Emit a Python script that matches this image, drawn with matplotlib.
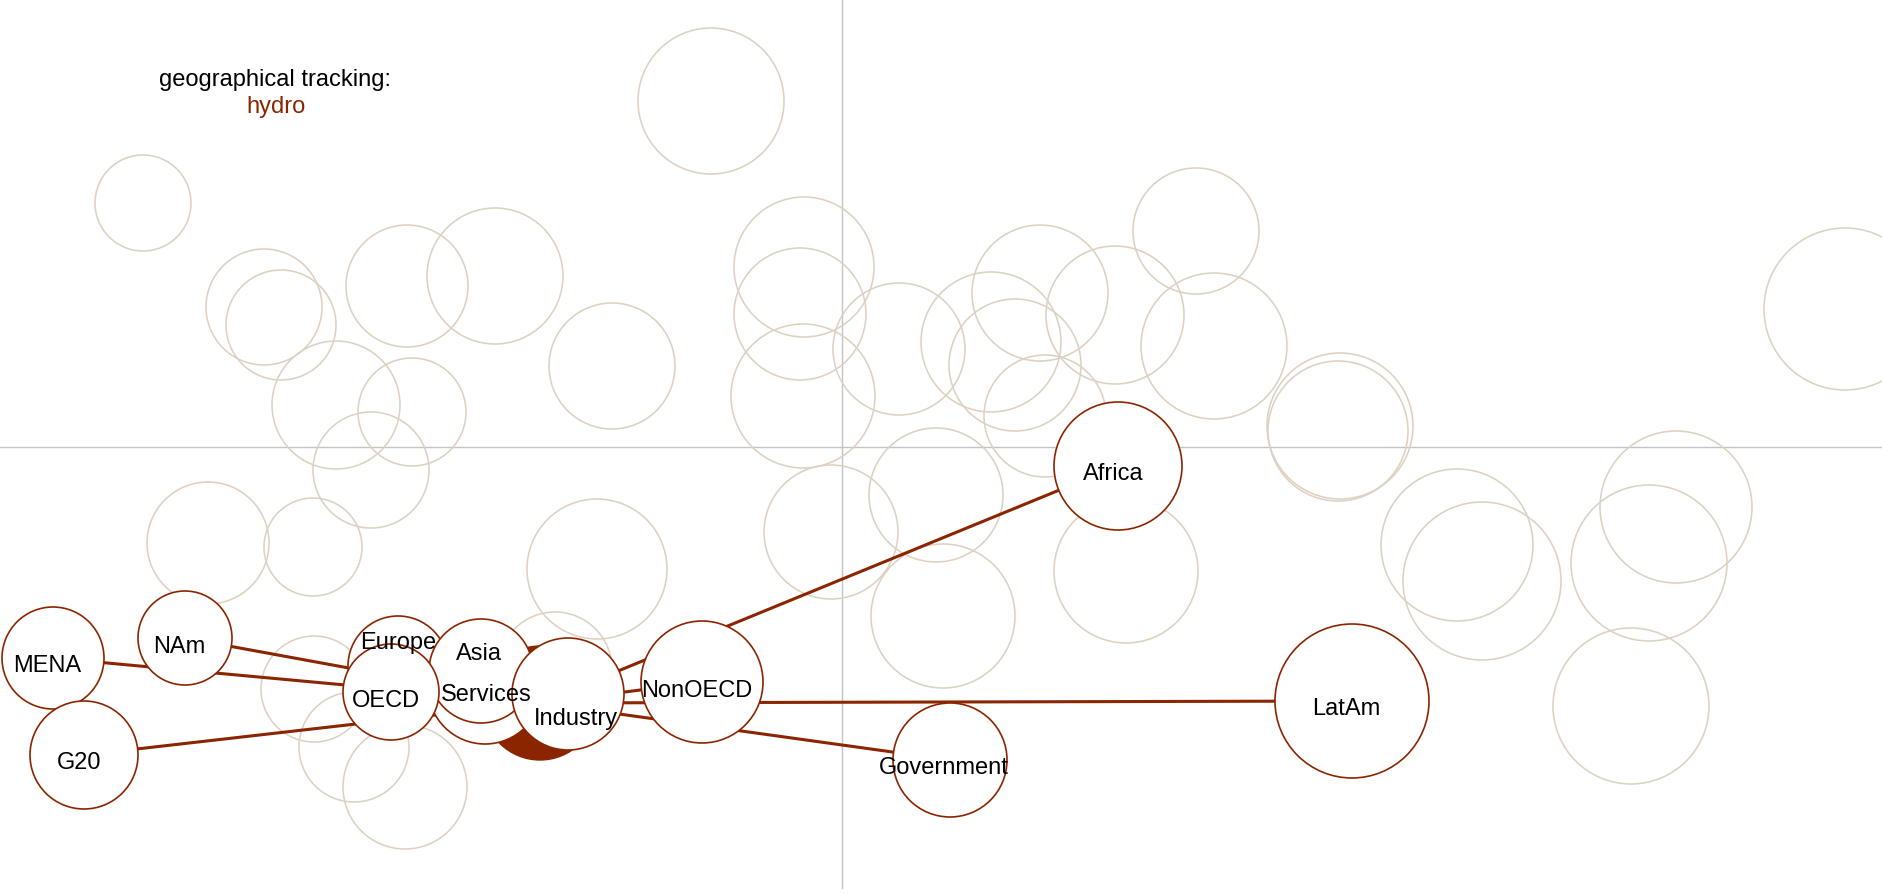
import matplotlib
matplotlib.use('Agg')
import matplotlib.pyplot as plt
from matplotlib.patches import Circle

W, H = 1883, 895
DARK = '#8b2500'
BEIGE = '#ddd1c3'
AXIS = '#c4c4c4'
FONT = ['Liberation Sans', 'DejaVu Sans']

# untracked nodes (layout units, y grows downwards)
bg_x = [711, 143, 264, 281, 407, 495, 336, 412, 371, 612, 804, 800, 803, 899,
        1040, 991, 1015, 1045, 1115, 1196, 1214, 1340, 1338, 1845, 208, 313,
        597, 831, 936, 943, 1126, 1457, 1482, 1676, 1649, 1631, 314, 354, 405, 555]
bg_y = [102, 204, 308, 326, 287, 277, 406, 413, 471, 367, 268, 315, 397, 350,
        294, 343, 366, 417, 316, 232, 347, 427, 432, 310, 544, 548,
        570, 533, 496, 617, 572, 546, 582, 508, 564, 707, 690, 748, 788, 670]
bg_r = [73, 48, 58, 55, 61, 68, 64, 54, 58, 63, 70, 66, 72, 66,
        68, 70, 66, 61, 69, 63, 73, 73, 70, 81, 61, 49,
        70, 67, 67, 72, 72, 76, 79, 76, 78, 78, 53, 55, 62, 57]

# tracked node and the nodes linked to it
hub_name = 'hydro'
hub_x, hub_y, hub_r = 540, 704, 57

names = ['MENA', 'G20', 'NAm', 'Services', 'Europe', 'Asia', 'OECD', 'Industry',
         'NonOECD', 'Government', 'LatAm', 'Africa']
node_x = [53, 84, 185, 485, 398, 481, 391, 568, 702, 950, 1352, 1118]
node_y = [659, 756, 639, 688, 667, 672, 693, 695, 683, 761, 702, 467]
node_r = [51, 54, 47, 57, 50, 52, 48, 56, 61, 57, 77, 64]
label_x = [47, 79, 179, 486, 398, 479, 386, 576, 697, 944, 1346, 1113]
label_y = [664, 761, 645, 693, 641, 652, 699, 717, 689, 766, 707, 472]

origin_x, origin_y = 842, 448

fig = plt.figure(figsize=(W / 100, H / 100), dpi=100)
ax = fig.add_axes([0, 0, 1, 1])
ax.set_xlim(0, W)
ax.set_ylim(H, 0)
ax.axis('off')

ax.plot([origin_x, origin_x], [0, 889], color=AXIS, lw=1.0, zorder=1)
ax.plot([0, W], [origin_y, origin_y], color=AXIS, lw=1.0, zorder=1)

for x, y, r in zip(bg_x, bg_y, bg_r):
    ax.add_patch(Circle((x, y), r, fill=False, ec=BEIGE, lw=1.15, zorder=2))

for x, y in zip(node_x, node_y):
    ax.plot([hub_x, x], [hub_y, y], color=DARK, lw=2.2, zorder=3,
            solid_capstyle='butt')

ax.add_patch(Circle((hub_x, hub_y), hub_r, fc=DARK, ec=DARK, lw=1.0, zorder=4))

for i, (x, y, r) in enumerate(zip(node_x, node_y, node_r)):
    ax.add_patch(Circle((x, y), r, fc='white', ec=DARK, lw=1.2, zorder=5 + i * 0.01))

for name, x, y in zip(names, label_x, label_y):
    ax.text(x, y + 8, name, ha='center', va='baseline', fontsize=17,
            family=FONT, color='black', zorder=10)

ax.text(275, 86, 'geographical tracking:', ha='center', va='baseline',
        fontsize=17, family=FONT, color='black', zorder=10)
ax.text(276, 113, hub_name, ha='center', va='baseline',
        fontsize=17, family=FONT, color=DARK, zorder=10)

fig.savefig('out.png', dpi=100, facecolor='white')
